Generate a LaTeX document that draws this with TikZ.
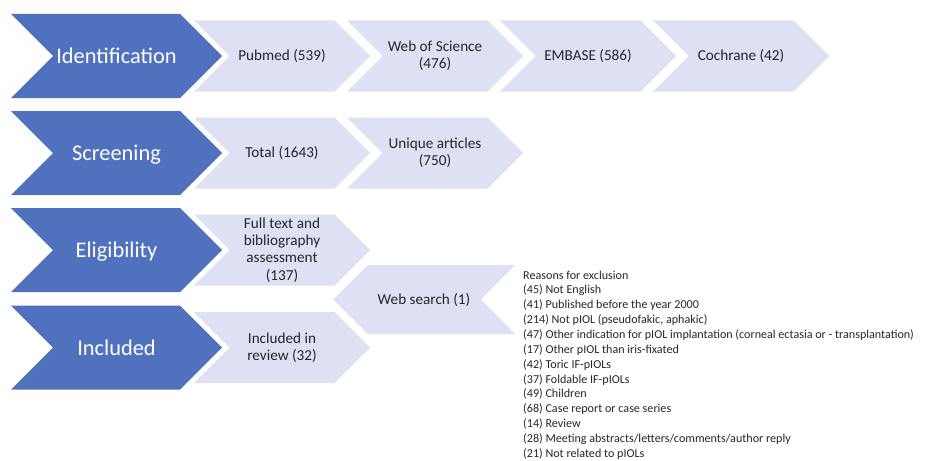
\documentclass[tikz,border=0pt]{standalone}
\usepackage{fontspec}
\setmainfont{Carlito}
\definecolor{darkchev}{HTML}{5071BD}
\definecolor{lightchev}{HTML}{DEE1F3}
\tikzset{
  darkfill/.style={fill=darkchev},
  lightfill/.style={fill=lightchev},
  darktext/.style={text=white,font=\fontsize{22.4}{26}\selectfont,inner sep=0pt,anchor=base},
  lighttext/.style={text=black!85,font=\fontsize{15.2}{17.3}\selectfont,align=center,inner sep=0pt},
}
% dark chevron: #1 = y mid, #2 = name, #3 = text
\newcommand\DarkChev[3]{%
  \path[darkfill] (11,#1-42) -- (180,#1-42) -- (222,#1) -- (180,#1+42) -- (11,#1+42) -- (53,#1) -- cycle;
  \node[darktext] (#2) at (116.5,#1+7.5) {#3};}
% light chevron: #1 = x left, #2 = y mid, #3 = name, #4 = text
\newcommand\LightChev[4]{%
  \path[lightfill] (#1,#2-35.5) -- (#1+140.5,#2-35.5) -- (#1+176,#2) -- (#1+140.5,#2+35.5) -- (#1,#2+35.5) -- (#1+35.5,#2) -- cycle;
  \node[lighttext] (#3) at (#1+88,#2) {#4};}
\begin{document}
\begin{tikzpicture}[x=1pt,y=-1pt]
\useasboundingbox (0,0) rectangle (925,460);
% row 1
\DarkChev{56}{ident}{Identification}
\LightChev{194}{56}{pubmed}{Pubmed (539)}
\LightChev{347}{56}{wos}{Web of Science\\(476)}
\LightChev{500}{56}{embase}{EMBASE (586)}
\LightChev{653}{56}{cochrane}{Cochrane (42)}
% row 2
\DarkChev{153}{screen}{Screening}
\LightChev{194}{153}{total}{Total (1643)}
\LightChev{347}{153}{unique}{Unique articles\\(750)}
% row 3
\DarkChev{250}{elig}{Eligibility}
\LightChev{194}{250}{fulltext}{Full text and\\bibliography\\assessment\\(137)}
% row 4
\DarkChev{347.5}{incl}{Included}
\LightChev{194}{347.5}{review}{Included in\\review (32)}
% web search (pointing left)
\path[lightfill] (333,299.5) -- (368,265) -- (515,265) -- (481,299.5) -- (515,334) -- (368,334) -- cycle;
\node[lighttext] (web) at (424,299.5) {Web search (1)};
% reasons for exclusion
\node[anchor=north west,align=left,inner sep=0pt,text=black!85,
      font=\fontsize{12.1}{14.85}\selectfont] (excl) at (523,270.5) {%
Reasons for exclusion\\
(45) Not English\\
(41) Published before the year 2000\\
(214) Not pIOL (pseudofakic, aphakic)\\
(47) Other indication for pIOL implantation (corneal ectasia or - transplantation)\\
(17) Other pIOL than iris-fixated\\
(42) Toric IF-pIOLs\\
(37) Foldable IF-pIOLs\\
(49) Children\\
(68) Case report or case series\\
(14) Review\\
(28) Meeting abstracts/letters/comments/author reply\\
(21) Not related to pIOLs};
\end{tikzpicture}
\end{document}
